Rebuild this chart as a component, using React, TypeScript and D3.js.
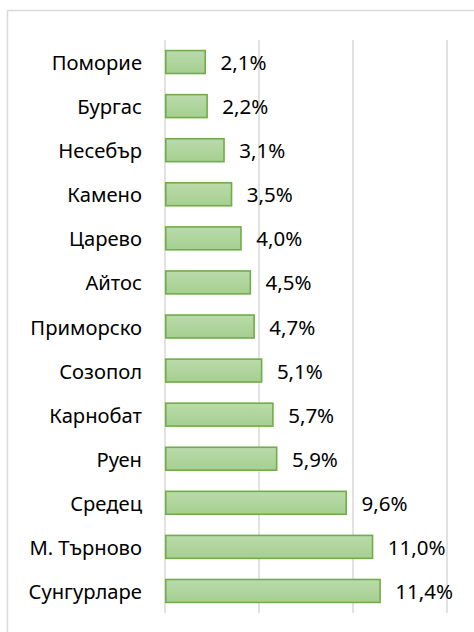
import React from "react";
import * as d3 from "d3";

const categories = [
  "Поморие", "Бургас", "Несебър", "Камено", "Царево", "Айтос", "Приморско",
  "Созопол", "Карнобат", "Руен", "Средец", "М. Търново", "Сунгурларе",
];
const values = [2.1, 2.2, 3.1, 3.5, 4.0, 4.5, 4.7, 5.1, 5.7, 5.9, 9.6, 11.0, 11.4];
const ticks = [0, 5, 10, 15];

const W = 474, H = 632;
const left = 165, right = 447, top = 40, bottom = 613;
const font = "'Noto Sans', 'Open Sans', sans-serif";

export default function App() {
  const x = d3.scaleLinear().domain([0, 15]).range([left, right]);
  const y = d3.scaleBand<string>().domain(categories).range([top, bottom]).paddingInner(0.48).paddingOuter(0.24);
  const fmt = (v: number) => v.toFixed(1).replace(".", ",") + "%";
  return (
    <svg width={W} height={H} style={{ position: "absolute", left: 0, top: 0 }}>
      <defs>
        <linearGradient id="g" x1="0" y1="0" x2="0" y2="1">
          <stop offset="0" stopColor="#b9dbab" />
          <stop offset="1" stopColor="#a6cf90" />
        </linearGradient>
      </defs>
      <rect x={0} y={0} width={W} height={H} fill="#fff" />
      <rect x={7.5} y={10.5} width={W} height={H} fill="#fff" stroke="#d9d9d9" strokeWidth={1.5} />
      {ticks.map((t) => (
        <line key={t} x1={x(t)} x2={x(t)} y1={top} y2={bottom} stroke="#d9d9d9" strokeWidth={1.5} />
      ))}
      {categories.map((c, i) => {
        const yy = y(c)!;
        const bh = y.bandwidth();
        const cy = yy + bh / 2;
        return (
          <g key={c}>
            <rect x={x(0) + 0.75} y={yy} width={x(values[i]) - x(0)} height={bh}
              fill="url(#g)" stroke="#70ad47" strokeWidth={1.6} />
            <text x={142} y={cy} textAnchor="end" dominantBaseline="central"
              fontFamily={font} fontSize={20.2} fill="#000">{c}</text>
            <text x={x(values[i]) + 16} y={cy} dominantBaseline="central"
              fontFamily={font} fontSize={20.5} fill="#000">{fmt(values[i])}</text>
          </g>
        );
      })}
    </svg>
  );
}
